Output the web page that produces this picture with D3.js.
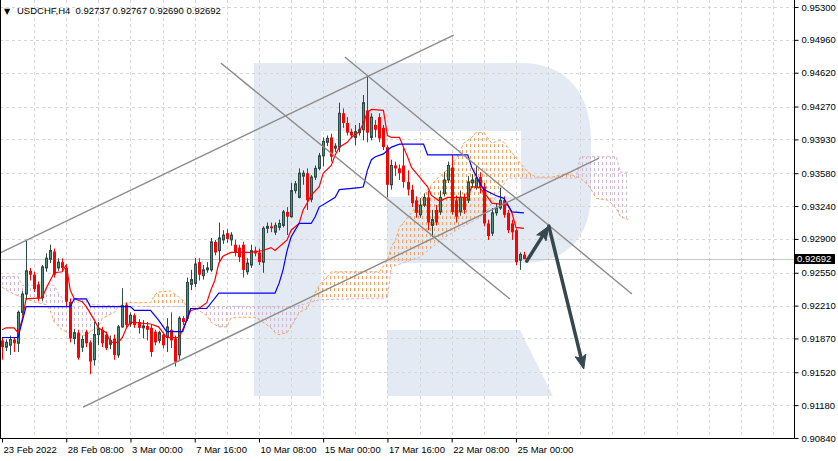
<!DOCTYPE html>
<html><head><meta charset="utf-8">
<script src="https://cdn.jsdelivr.net/npm/d3@7"></script>
<style>
html,body{margin:0;padding:0;background:#fff;}
svg{display:block;font-family:"Liberation Sans",Arial,sans-serif;}
</style></head><body>
<svg id="chart" width="838" height="461"></svg>
<script>
// ---------- DATA ----------
const symbol = "USDCHF,H4";
const openP = [
0.9185,0.9178,0.9180,0.9186,0.9182,0.9214,0.9233,0.9257,0.9253,0.9243,
0.9229,0.9260,0.9269,0.9277,0.9260,0.9266,0.9260,0.9225,0.9187,0.9193,
0.9178,0.9194,0.9183,0.9165,0.9191,0.9196,0.9191,0.9181,0.9187,0.9170,
0.9199,0.9222,0.9202,0.9211,0.9204,0.9198,0.9200,0.9198,0.9194,0.9185,
0.9191,0.9188,0.9196,0.9187,0.9170,0.9208,0.9208,0.9243,0.9244,0.9266,
0.9252,0.9258,0.9258,0.9287,0.9278,0.9289,0.9296,0.9289,0.9284,0.9281,
0.9284,0.9256,0.9263,0.9278,0.9276,0.9266,0.9301,0.9303,0.9297,0.9302,
0.9304,0.9318,0.9313,0.9340,0.9333,0.9355,0.9358,0.9331,0.9354,0.9363,
0.9376,0.9390,0.9395,0.9384,0.9385,0.9420,0.9410,0.9401,0.9395,0.9400,
0.9403,0.9423,0.9395,0.9408,0.9416,0.9405,0.9385,0.9346,0.9366,0.9363,
0.9366,0.9349,0.9341,0.9330,0.9315,0.9325,0.9333,0.9304,0.9320,0.9318,
0.9337,0.9351,0.9364,0.9330,0.9318,0.9333,0.9330,0.9348,0.9343,0.9354,
0.9344,0.9306,0.9296,0.9317,0.9322,0.9330,0.9317,0.9306,0.9299,0.9268,
0.92737];
const highP = [
0.9188,0.9186,0.9190,0.9188,0.9216,0.9236,0.9288,0.9260,0.9256,0.9246,
0.9263,0.9275,0.9284,0.9280,0.9270,0.9270,0.9263,0.9228,0.9197,0.9196,
0.9190,0.9196,0.9185,0.9204,0.9204,0.9199,0.9194,0.9190,0.9191,0.9201,
0.9239,0.9224,0.9214,0.9213,0.9207,0.9206,0.9204,0.9201,0.9196,0.9195,
0.9193,0.9208,0.9214,0.9190,0.9210,0.9210,0.9250,0.9258,0.9270,0.9270,
0.9263,0.9266,0.9291,0.9289,0.9307,0.9299,0.9300,0.9297,0.9289,0.9284,
0.9287,0.9270,0.9284,0.9282,0.9280,0.9303,0.9307,0.9307,0.9307,0.9310,
0.9320,0.9323,0.9348,0.9350,0.9363,0.9361,0.9363,0.9356,0.9366,0.9379,
0.9395,0.9397,0.9399,0.9389,0.9431,0.9425,0.9416,0.9404,0.9408,0.9410,
0.9439,0.9458,0.9420,0.9413,0.9420,0.9408,0.9387,0.9372,0.9370,0.9367,
0.9385,0.9361,0.9346,0.9334,0.9332,0.9337,0.9340,0.9320,0.9325,0.9340,
0.9359,0.9370,0.9377,0.9335,0.9340,0.9337,0.9355,0.9357,0.9366,0.9359,
0.9348,0.9310,0.9322,0.9327,0.9343,0.9334,0.9320,0.9310,0.9301,0.9276,
0.92767];
const lowP = [
0.9165,0.9174,0.9170,0.9173,0.9173,0.9211,0.9227,0.9247,0.9235,0.9226,
0.9226,0.9256,0.9265,0.9250,0.9257,0.9256,0.9220,0.9183,0.9181,0.9165,
0.9173,0.9178,0.9150,0.9159,0.9180,0.9178,0.9175,0.9176,0.9165,0.9167,
0.9198,0.9198,0.9199,0.9198,0.9192,0.9187,0.9185,0.9168,0.9180,0.9182,
0.9177,0.9173,0.9177,0.9158,0.9165,0.9201,0.9205,0.9237,0.9240,0.9247,
0.9248,0.9255,0.9256,0.9273,0.9266,0.9285,0.9286,0.9283,0.9272,0.9266,
0.9250,0.9253,0.9260,0.9272,0.9263,0.9255,0.9296,0.9297,0.9294,0.9299,
0.9302,0.9294,0.9312,0.9337,0.9332,0.9346,0.9320,0.9328,0.9351,0.9361,
0.9365,0.9386,0.9370,0.9380,0.9380,0.9405,0.9397,0.9394,0.9387,0.9397,
0.9392,0.9390,0.9392,0.9395,0.9390,0.9382,0.9333,0.9341,0.9355,0.9351,
0.9343,0.9335,0.9323,0.9312,0.9312,0.9323,0.9299,0.9292,0.9304,0.9315,
0.9334,0.9348,0.9315,0.9307,0.9314,0.9316,0.9327,0.9343,0.9341,0.9337,
0.9303,0.9289,0.9293,0.9314,0.9320,0.9312,0.9296,0.9289,0.9263,0.9258,
0.92690];
const closeP = [
0.9178,0.9183,0.9186,0.9182,0.9214,0.9233,0.9257,0.9253,0.9238,0.9229,
0.9261,0.9270,0.9278,0.9253,0.9266,0.9260,0.9225,0.9187,0.9193,0.9167,
0.9186,0.9182,0.9163,0.9191,0.9197,0.9182,0.9177,0.9185,0.9170,0.9199,
0.9221,0.9201,0.9211,0.9201,0.9198,0.9200,0.9196,0.9173,0.9183,0.9193,
0.9180,0.9199,0.9185,0.9163,0.9208,0.9204,0.9245,0.9248,0.9264,0.9253,
0.9258,0.9260,0.9287,0.9276,0.9291,0.9294,0.9290,0.9294,0.9276,0.9271,
0.9258,0.9265,0.9278,0.9275,0.9266,0.9301,0.9303,0.9301,0.9304,0.9306,
0.9318,0.9313,0.9340,0.9347,0.9358,0.9358,0.9330,0.9354,0.9363,0.9376,
0.9391,0.9394,0.9375,0.9386,0.9420,0.9410,0.9400,0.9397,0.9401,0.9403,
0.9431,0.9400,0.9416,0.9403,0.9394,0.9385,0.9346,0.9366,0.9363,0.9358,
0.9349,0.9341,0.9327,0.9317,0.9325,0.9333,0.9307,0.9310,0.9307,0.9333,
0.9351,0.9366,0.9318,0.9313,0.9333,0.9320,0.9349,0.9351,0.9353,0.9343,
0.9306,0.9293,0.9317,0.9322,0.9330,0.9315,0.9299,0.9297,0.9266,0.9274,
0.92692];

// Ichimoku lines as [bar, price] vertices
const tenkan = [[0,0.9196],[1,0.9198],[3,0.9198],[4,0.9193],[5,0.9206],[6,0.9228],[10,0.9229],[11,0.9239],[13,0.9255],[15,0.9256],[16,0.9263],[17,0.9237],[18,0.9228],[20,0.9225],[21,0.9220],[22,0.9213],[23,0.9206],[24,0.9198],[26,0.9193],[27,0.9183],[29,0.9183],[30,0.9188],[31,0.9198],[32,0.9204],[37,0.9202],[39,0.9199],[41,0.9188],[44,0.9188],[45,0.9196],[46,0.9206],[47,0.9216],[49,0.9218],[51,0.9224],[52,0.9237],[53,0.9247],[54,0.9265],[55,0.9272],[57,0.9276],[62,0.9276],[65,0.9278],[67,0.9281],[68,0.9278],[71,0.9289],[72,0.9299],[74,0.9306],[75,0.9320],[76,0.9327],[77,0.9335],[79,0.9344],[80,0.9358],[82,0.9366],[83,0.9377],[84,0.9385],[86,0.9390],[87,0.9395],[89,0.9401],[90,0.9410],[91,0.9421],[92,0.9424],[95,0.9423],[96,0.9397],[97,0.9395],[99,0.9395],[100,0.9385],[101,0.9375],[102,0.9364],[104,0.9354],[106,0.9344],[107,0.9335],[109,0.9329],[111,0.9333],[116,0.9333],[117,0.9344],[119,0.9343],[121,0.9333],[122,0.9327],[126,0.9325],[127,0.9317],[128,0.9302],[130,0.9301]];
const kijun = [[0,0.9188],[4,0.9188],[6,0.9220],[17,0.9220],[18,0.9228],[21,0.9228],[22,0.9220],[32,0.9220],[33,0.9216],[37,0.9216],[39,0.9206],[41,0.9194],[45,0.9194],[47,0.9218],[51,0.9218],[54,0.9234],[68,0.9234],[69,0.9244],[70,0.9258],[71,0.9278],[72,0.9292],[74,0.9306],[77,0.9306],[78,0.9313],[79,0.9323],[81,0.9328],[83,0.9333],[84,0.9341],[89,0.9343],[90,0.9344],[91,0.9361],[92,0.9372],[93,0.9375],[95,0.9378],[97,0.9385],[99,0.9388],[105,0.9388],[106,0.9377],[116,0.9377],[117,0.9364],[118,0.9356],[119,0.9348],[120,0.9341],[123,0.9335],[125,0.9332],[126,0.9325],[127,0.9318],[130,0.9317]];
const spanA = [[0,0.9240],[2,0.9235],[4,0.9231],[8,0.9225],[11,0.9222],[12,0.9216],[13,0.9204],[15,0.9196],[17,0.9192],[21,0.9190],[22,0.9194],[24,0.9199],[25,0.9208],[28,0.9214],[29,0.9220],[31,0.9224],[37,0.9224],[38,0.9232],[39,0.9235],[42,0.9236],[44,0.9230],[45,0.9227],[46,0.9220],[48,0.9220],[49,0.9216],[51,0.9211],[52,0.9204],[54,0.9199],[56,0.9199],[57,0.9208],[59,0.9209],[63,0.9209],[65,0.9204],[67,0.9198],[68,0.9193],[69,0.9191],[71,0.9193],[72,0.9199],[73,0.9206],[74,0.9214],[76,0.9218],[77,0.9227],[79,0.9242],[81,0.9251],[82,0.9256],[94,0.9256],[96,0.9268],[97,0.9282],[98,0.9289],[99,0.9302],[102,0.9317],[104,0.9330],[106,0.9341],[108,0.9351],[110,0.9358],[113,0.9372],[115,0.9389],[117,0.9395],[118,0.9400],[120,0.9400],[122,0.9389],[124,0.9392],[125,0.9390],[127,0.9379],[129,0.9369],[131,0.9359],[133,0.9354],[137,0.9354],[140,0.9357],[142,0.9356],[144,0.9353],[146,0.9346],[148,0.9332],[151,0.9330],[153,0.9322],[154,0.9313],[156,0.9310]];
const spanB = [[0,0.9251],[4,0.9251],[5,0.9242],[13,0.9242],[14,0.9234],[15,0.9229],[21,0.9227],[22,0.9222],[32,0.9220],[73,0.9220],[79,0.9227],[96,0.9229],[97,0.9261],[104,0.9271],[107,0.9281],[110,0.9291],[114,0.9301],[119,0.9312],[121,0.9320],[124,0.9340],[126,0.9353],[143,0.9353],[144,0.9375],[153,0.9375],[154,0.9359],[156,0.9359]];

// Axis ticks
const yTicks = [0.95300,0.94960,0.94620,0.94270,0.93930,0.93580,0.93240,0.92900,0.92550,0.92210,0.91870,0.91520,0.91180,0.90840];
const xTickBars = [0,16,32,48,64,80,96,112,128];
const xTickLabels = ["23 Feb 2022","28 Feb 08:00","3 Mar 00:00","7 Mar 16:00","10 Mar 08:00","15 Mar 00:00","17 Mar 16:00","22 Mar 08:00","25 Mar 00:00"];

// Drawn objects in [bar, price]
const trendLines = [
  [[-0.5,0.92754],[112.5,0.95010]],
  [[20.2,0.91160],[148.7,0.93737]],
  [[54.5,0.94720],[126.5,0.92278]],
  [[85.4,0.94782],[156.9,0.92330]]
];
const arrows = [
  [[130.7,0.92671],[136.2,0.93033]],
  [[136.2,0.93033],[144.9,0.91554]]
];

// ---------- RENDER ----------
const svg = d3.select('#chart');
const PR = 794, PB = 438;
const step = 4.015;
const x = d3.scaleLinear().domain([0,130]).range([2, 2+step*130]);
const y = d3.scaleLinear().domain([0.9084,0.9530]).range([438,7]);
const px = i => Math.round(x(i));

const defs = svg.append('defs');
defs.append('clipPath').attr('id','plotClip').append('rect')
  .attr('x',1).attr('y',0).attr('width',PR-1).attr('height',PB);

function hatch(id,color){
  const p = defs.append('pattern').attr('id',id).attr('patternUnits','userSpaceOnUse')
    .attr('x',px(0)).attr('y',0).attr('width',4).attr('height',6);
  p.append('rect').attr('x',0).attr('y',0).attr('width',1).attr('height',3).attr('fill',color);
}
const colA = '#f4a460', colB = '#d2b6d2';
hatch('hatchA',colA); hatch('hatchB',colB);

const toPx = d => [x(d[0]), y(d[1])];
const bPts = spanB.map(toPx), aPts = spanA.map(toPx);
const lastBX = bPts[bPts.length-1][0];
defs.append('clipPath').attr('id','clipAbove').append('path')
  .attr('d', d3.line()([[bPts[0][0]-3,-10], ...bPts, [lastBX+3,-10]]) + 'Z');
defs.append('clipPath').attr('id','clipBelow').append('path')
  .attr('d', d3.line()([[bPts[0][0]-3,600], ...bPts, [lastBX+3,600]]) + 'Z');

svg.append('rect').attr('width',838).attr('height',461).attr('fill','#fff');

const plot = svg.append('g').attr('clip-path','url(#plotClip)');

// watermark logo
const wm = plot.append('g').attr('fill','#e4eaf3');
wm.append('path').attr('d','M254,63 L521,63 C568,63 591,95 591,140 L591,192 C591,237 568,263 521,263 L387,263 L387,197 L521,197 L521,131 L321,131 L321,396 L254,396 Z');
wm.append('path').attr('d','M387,330 L520,330 L553,396 L387,396 Z');

// grid
const grid = plot.append('g').attr('stroke','#d6d6d6').attr('stroke-dasharray','3,3').attr('stroke-width',1);
yTicks.forEach(v => {
  const yy = Math.round(y(v))+0.5;
  grid.append('line').attr('x1',0).attr('x2',PR).attr('y1',yy).attr('y2',yy);
});
d3.range(8,200,8).forEach(i => {
  const xx = px(i)+0.5;
  grid.append('line').attr('x1',xx).attr('x2',xx).attr('y1',0).attr('y2',PB);
});

// current price line
const lastIdx = closeP.length-1;
const cy = Math.round(y(closeP[lastIdx]))+0.5;
plot.append('line').attr('x1',0).attr('x2',PR).attr('y1',cy).attr('y2',cy).attr('stroke','#c8c8c8').attr('stroke-width',1);

// cloud hatch
const cloudD = d3.line()([...aPts, ...bPts.slice().reverse()]) + 'Z';
plot.append('path').attr('d',cloudD).attr('fill','url(#hatchA)').attr('clip-path','url(#clipAbove)');
plot.append('path').attr('d',cloudD).attr('fill','url(#hatchB)').attr('clip-path','url(#clipBelow)');

const line = d3.line().x(d=>x(d[0])).y(d=>y(d[1]));
plot.append('path').attr('d',line(spanA)).attr('fill','none').attr('stroke',colA).attr('stroke-width',1).attr('stroke-dasharray','3,2');
plot.append('path').attr('d',line(spanB)).attr('fill','none').attr('stroke',colB).attr('stroke-width',1).attr('stroke-dasharray','3,2');

// candles
const bullLine = '#2c4a46', bullFill = '#4a8f76', bear = '#ff0000';
const cg = plot.append('g');
openP.forEach((o,i) => {
  const c = closeP[i], h = highP[i], l = lowP[i], up = c >= o;
  const cx = px(i)+0.5;
  cg.append('line').attr('x1',cx).attr('x2',cx).attr('y1',y(h)).attr('y2',y(l))
    .attr('stroke', up?bullLine:bear).attr('stroke-width',1);
  const top = y(Math.max(o,c)), hgt = Math.max(1, y(Math.min(o,c)) - top);
  if (up) {
    cg.append('rect').attr('x',px(i)-0.5).attr('y',top).attr('width',2).attr('height',hgt)
      .attr('fill',bullFill).attr('stroke',bullLine).attr('stroke-width',1);
  } else {
    cg.append('rect').attr('x',px(i)-1).attr('y',top).attr('width',3).attr('height',hgt).attr('fill',bear);
  }
});

// tenkan & kijun
plot.append('path').attr('d',line(tenkan)).attr('fill','none').attr('stroke','#ff0000').attr('stroke-width',1.2);
plot.append('path').attr('d',line(kijun)).attr('fill','none').attr('stroke','#0000ff').attr('stroke-width',1.2);

// trend lines
trendLines.forEach(t => {
  plot.append('line').attr('x1',x(t[0][0])).attr('y1',y(t[0][1])).attr('x2',x(t[1][0])).attr('y2',y(t[1][1]))
    .attr('stroke','#8a8a8a').attr('stroke-width',1.4);
});

// arrows
const arrowCol = '#37474f';
arrows.forEach(a => {
  const [x1,y1] = [x(a[0][0]), y(a[0][1])];
  const [x2,y2] = [x(a[1][0]), y(a[1][1])];
  const dx = x2-x1, dy = y2-y1, len = Math.hypot(dx,dy), ux = dx/len, uy = dy/len;
  const hl = 14, hw = 5.5;
  const bx = x2 - ux*hl, by = y2 - uy*hl;
  plot.append('line').attr('x1',x1).attr('y1',y1).attr('x2',x2-ux*6).attr('y2',y2-uy*6)
    .attr('stroke',arrowCol).attr('stroke-width',3.5).attr('stroke-linecap','round');
  plot.append('path').attr('d', d3.line()([[x2,y2],[bx - uy*hw, by + ux*hw],[bx + ux*3, by + uy*3],[bx + uy*hw, by - ux*hw]]) + 'Z')
    .attr('fill',arrowCol).attr('stroke',arrowCol).attr('stroke-width',1).attr('stroke-linejoin','round');
});

// frame
const frame = svg.append('g').attr('stroke','#000').attr('stroke-width',1);
frame.append('line').attr('x1',0.5).attr('x2',0.5).attr('y1',0).attr('y2',PB+0.5);
frame.append('line').attr('x1',0).attr('x2',PR+0.5).attr('y1',PB+0.5).attr('y2',PB+0.5);
frame.append('line').attr('x1',PR+0.5).attr('x2',PR+0.5).attr('y1',0).attr('y2',PB+0.5);

// y axis
const fmt5 = d3.format('.5f');
const ya = svg.append('g').attr('transform',`translate(${PR+0.5},0)`)
  .call(d3.axisRight(y).tickValues(yTicks).tickSize(4).tickPadding(3).tickFormat(fmt5));
ya.select('.domain').remove();
ya.attr('font-size',9.5).attr('font-family','"Liberation Sans",Arial,sans-serif');
ya.selectAll('line').attr('stroke','#000');
ya.selectAll('text').attr('fill','#000');

// x axis
const xa = svg.append('g').attr('transform',`translate(0,${PB+0.5})`)
  .call(d3.axisBottom(x).tickValues(xTickBars).tickSize(4).tickPadding(4).tickFormat((d,i)=>xTickLabels[i]));
xa.select('.domain').remove();
xa.attr('font-size',9.5).attr('font-family','"Liberation Sans",Arial,sans-serif');
xa.selectAll('line').attr('stroke','#000');
xa.selectAll('text').attr('fill','#000').attr('text-anchor','start').attr('dx',1);

// current price box
const lastClose = closeP[lastIdx];
svg.append('rect').attr('x',PR+1).attr('y',y(lastClose)-5).attr('width',40).attr('height',10).attr('fill','#000');
svg.append('text').attr('x',PR+3).attr('y',y(lastClose)+3.4).attr('fill','#fff')
  .attr('font-size',9.5).text(fmt5(lastClose));

// header
svg.append('text').attr('x',4).attr('y',13.5).attr('font-size',8).attr('font-family','"DejaVu Sans",sans-serif').attr('fill','#000').text('▼');
svg.append('text').attr('x',17).attr('y',14).attr('font-size',9.5).attr('fill','#000')
  .attr('xml:space','preserve').style('white-space','pre')
  .text(`${symbol}  ${fmt5(openP[lastIdx])} ${fmt5(highP[lastIdx])} ${fmt5(lowP[lastIdx])} ${fmt5(closeP[lastIdx])}`);
</script>
</body></html>
